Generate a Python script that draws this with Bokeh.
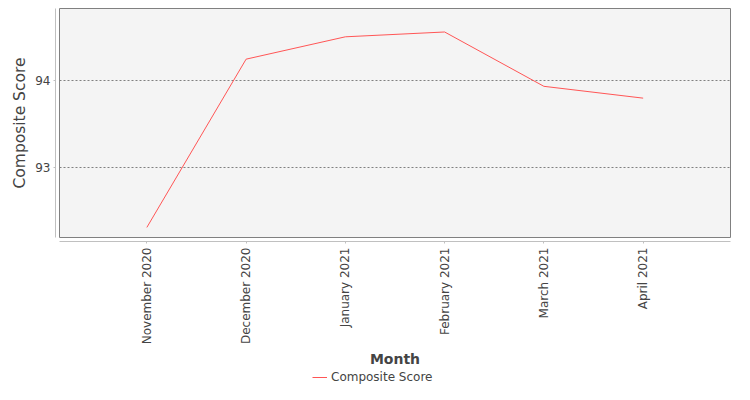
import math

from bokeh.plotting import figure
from bokeh.layouts import column
from bokeh.models import (CategoricalAxis, LinearAxis, FixedTicker,
                          FactorRange, Range1d, Legend, LegendItem)
from bokeh.embed import file_html
from bokeh.resources import INLINE

#### DATA ####
months = ["November 2020", "December 2020", "January 2021",
          "February 2021", "March 2021", "April 2021"]
composite_score = [92.32, 94.24, 94.495, 94.55, 93.93, 93.795]
y_ticks = [93, 94]

FONT = "DejaVu Sans"
TEXT = "#444444"
LINE_COLOR = "#ff5555"

x_range = FactorRange(factors=months, range_padding=0.38, range_padding_units="absolute")
y_range = Range1d(92.205, 94.818)

#### MAIN FIGURE ####
p = figure(width=734, height=370, x_range=x_range, y_range=y_range,
           x_axis_location=None, y_axis_location=None,
           toolbar_location=None, output_backend="svg",
           min_border_left=59, min_border_right=4,
           min_border_top=8, min_border_bottom=132)

p.background_fill_color = "#f4f4f4"
p.outline_line_color = "#808080"
p.outline_line_width = 1
p.border_fill_color = "white"

#spacer axes (hidden ticks, empty labels) give the small gap between plot box and axis lines
x_gap = CategoricalAxis(axis_line_color=None, major_tick_line_color=None,
                        major_tick_out=4, major_tick_in=0, major_label_standoff=0,
                        major_label_orientation=math.pi / 2,
                        major_label_overrides={m: "" for m in months},
                        major_label_text_color=None)
y_gap = LinearAxis(ticker=FixedTicker(ticks=y_ticks), axis_line_color=None,
                   major_tick_line_color=None, minor_tick_line_color=None,
                   major_tick_out=4, major_tick_in=0, minor_tick_out=0,
                   minor_tick_in=0, major_label_standoff=0,
                   major_label_overrides={t: "" for t in y_ticks},
                   major_label_text_color=None)
p.add_layout(x_gap, "below")
p.add_layout(y_gap, "left")

#real axes
xaxis = CategoricalAxis(axis_label="Month")
xaxis.major_label_orientation = math.pi / 2
yaxis = LinearAxis(axis_label="Composite Score", ticker=FixedTicker(ticks=y_ticks))

for ax in (xaxis, yaxis):
    ax.axis_line_color = "#c0c0c0"
    ax.major_tick_line_color = "#c0c0c0"
    ax.major_tick_out = 2
    ax.major_tick_in = 0
    ax.minor_tick_line_color = None
    ax.major_label_text_font = FONT
    ax.major_label_text_font_size = "12px"
    ax.major_label_text_color = TEXT
    ax.axis_label_text_font = FONT
    ax.axis_label_text_color = TEXT

xaxis.major_label_standoff = 4
xaxis.axis_label_text_font_size = "14px"
xaxis.axis_label_text_font_style = "bold"
xaxis.axis_label_standoff = 4
yaxis.major_label_standoff = 3
yaxis.axis_label_text_font_size = "15.5px"
yaxis.axis_label_text_font_style = "normal"
yaxis.axis_label_standoff = 3

p.add_layout(xaxis, "below")
p.add_layout(yaxis, "left")

#horizontal dotted grid only
p.xgrid.visible = False
p.ygrid.ticker = FixedTicker(ticks=y_ticks)
p.ygrid.grid_line_color = "#808080"
p.ygrid.grid_line_dash = "2 2"
p.ygrid.grid_line_width = 1

#### LINE ####
p.line(x=months, y=composite_score, line_color=LINE_COLOR, line_width=1)

#### LEGEND STRIP (its own small figure under the chart) ####
leg_fig = figure(width=734, height=14, x_range=x_range, y_range=y_range,
                 x_axis_location=None, y_axis_location=None,
                 toolbar_location=None, output_backend="svg", min_border=0)
leg_fig.outline_line_color = None
leg_fig.grid.visible = False
#same series, hidden: only its legend key is drawn here
key = leg_fig.line(x=months, y=composite_score, line_color=LINE_COLOR,
                   line_width=1, visible=False)

legend = Legend(items=[LegendItem(label="Composite Score", renderers=[key])],
                location=(253, 0), orientation="horizontal",
                border_line_color=None, background_fill_alpha=0,
                padding=0, margin=0, spacing=0,
                glyph_width=15, glyph_height=14, label_height=14,
                label_standoff=4, label_text_font=FONT,
                label_text_font_size="12px", label_text_color=TEXT)
leg_fig.add_layout(legend)

page = column(p, leg_fig, spacing=0)
open("out.html", "w").write(file_html(page, INLINE))
